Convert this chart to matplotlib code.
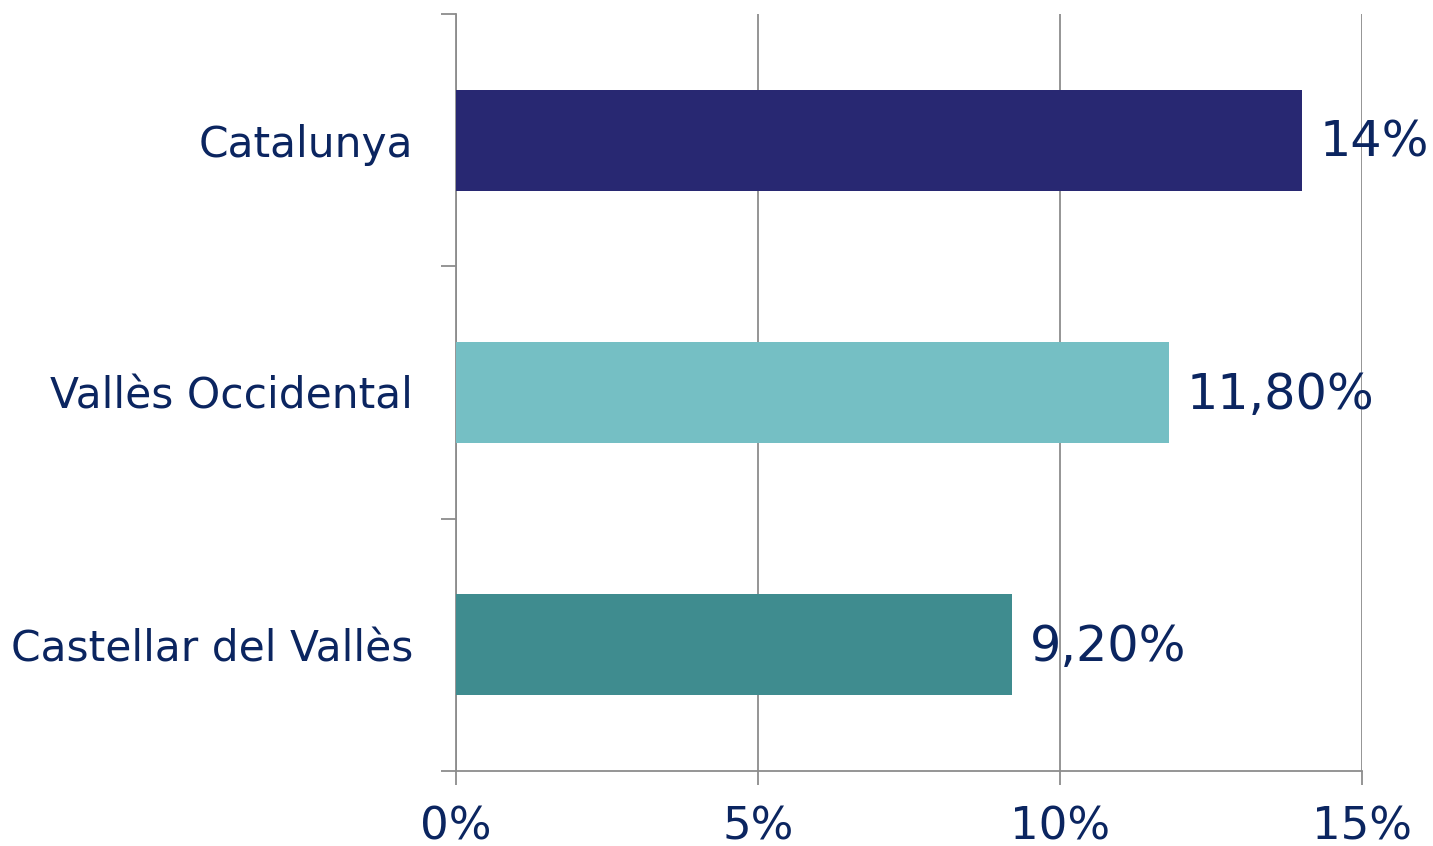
import matplotlib.pyplot as plt

categories = ['Catalunya', 'Vallès Occidental', 'Castellar del Vallès']
values = [14.0, 11.8, 9.2]
value_labels = ['14%', '11,80%', '9,20%']
colors = ['#282872', '#75BFC4', '#3F8C8F']
xticks = [0, 5, 10, 15]
xtick_labels = ['0%', '5%', '10%', '15%']

text_color = '#0B2560'
line_color = '#8C8C8C'

fig = plt.figure(figsize=(14.33, 8.46), dpi=100)
ax = fig.add_axes([0.3182, 0.0887, 0.6323, 0.8948])

ypos = [2, 1, 0]
ax.barh(ypos, values, height=0.4, color=colors, zorder=3)

for y, v, lab in zip(ypos, values, value_labels):
    ax.text(v + 0.3, y - 0.01, lab, va='center', ha='left', fontsize=35.5, color=text_color, zorder=4)

ax.set_xlim(0, 15)
ax.set_ylim(-0.5, 2.5)

ax.set_xticks(xticks)
ax.set_xticklabels(xtick_labels)
ax.tick_params(axis='x', length=10, width=1.3, color=line_color, pad=15,
               labelsize=32.4, labelcolor=text_color)

# category boundaries get the marks, centres get the labels
ax.set_yticks([-0.5, 0.5, 1.5, 2.5])
ax.set_yticklabels([])
ax.tick_params(axis='y', which='major', length=11, width=1.3, color=line_color)
ax.set_yticks(ypos, minor=True)
ax.set_yticklabels(categories, minor=True)
ax.tick_params(axis='y', which='minor', length=0, pad=31, labelsize=30.5, labelcolor=text_color)

ax.grid(axis='x', color=line_color, linewidth=1.3, zorder=0)
for s in ['top', 'right']:
    ax.spines[s].set_visible(False)
for s in ['left', 'bottom']:
    ax.spines[s].set_color(line_color)
    ax.spines[s].set_linewidth(1.3)

fig.savefig('out.png', dpi=100)
